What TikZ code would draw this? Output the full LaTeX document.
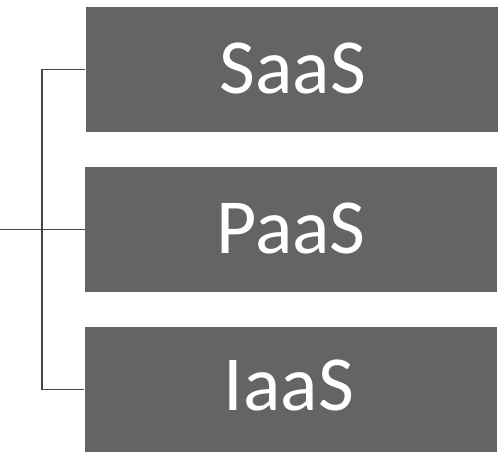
\documentclass[tikz,border=0pt]{standalone}
\usepackage{fontspec}
\setmainfont{Carlito}
\definecolor{boxgray}{RGB}{100,100,100}
\definecolor{linegray}{RGB}{70,70,70}
\begin{document}
\begin{tikzpicture}[x=1pt,y=-1pt,
  layer/.style={draw=none,fill=boxgray,minimum width=412pt,minimum height=125pt,inner sep=0pt},
  lbl/.style={text=white,anchor=base,inner sep=0pt,font=\fontsize{78}{78}\selectfont},
  link/.style={draw=linegray,line width=1.6pt}]
\useasboundingbox (0,0) rectangle (500,460);
\node[layer] (s) at (291.5,69.5) {};
\node[layer] (p) at (291,229.5) {};
\node[layer] (i) at (290.5,389.5) {};
\node[lbl] (st) at (293,93) {SaaS};
\node[lbl] (pt) at (291,253) {PaaS};
\node[lbl] (it) at (289,410) {IaaS};
\coordinate (spine) at (42,229.5);
\coordinate (in) at (0,229.5);
\draw[link] (s.west) -- (s.west -| spine) -- (i.west -| spine) -- (i.west);
\draw[link] (in) -- (p.west);
\end{tikzpicture}
\end{document}
